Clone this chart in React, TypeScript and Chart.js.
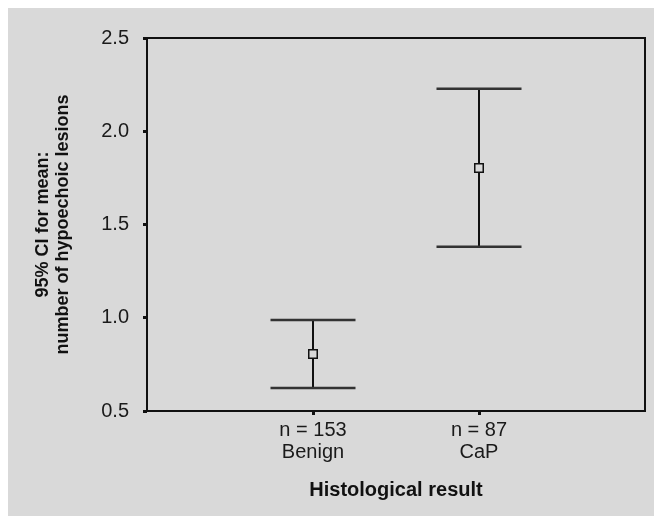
import React, { useEffect, useRef } from "react";
import { Chart, registerables } from "chart.js";

Chart.register(...registerables);

const categories = ["Benign", "CaP"];
const sampleSizes = ["n = 153", "n = 87"];
const xPositions = [1, 2];
const means = [0.806, 1.803];
const ciLower = [0.623, 1.381];
const ciUpper = [0.988, 2.228];
const yTicks = [0.5, 1.0, 1.5, 2.0, 2.5];

const BG = "#d9d9d9";
const FONT = "'Liberation Sans', Arial, Helvetica, sans-serif";

const errorBarPlugin = {
  id: "errorBars",
  beforeDatasetsDraw(chart: any) {
    const { ctx, scales } = chart;
    const xs = scales.x;
    const ys = scales.y;
    ctx.save();
    for (let i = 0; i < xPositions.length; i++) {
      const x = xs.getPixelForValue(xPositions[i]);
      const yl = ys.getPixelForValue(ciLower[i]);
      const yu = ys.getPixelForValue(ciUpper[i]);
      ctx.strokeStyle = "#111";
      ctx.lineWidth = 2;
      ctx.beginPath();
      ctx.moveTo(x, yu);
      ctx.lineTo(x, yl);
      ctx.stroke();
      ctx.strokeStyle = "#333";
      ctx.lineWidth = 2.5;
      ctx.beginPath();
      ctx.moveTo(x - 42.5, yu);
      ctx.lineTo(x + 42.5, yu);
      ctx.moveTo(x - 42.5, yl);
      ctx.lineTo(x + 42.5, yl);
      ctx.stroke();
    }
    ctx.restore();
  },
  afterDraw(chart: any) {
    const { ctx, chartArea } = chart;
    ctx.save();
    ctx.strokeStyle = "#111";
    ctx.lineWidth = 2;
    ctx.strokeRect(chartArea.left, chartArea.top, chartArea.right - chartArea.left, chartArea.bottom - chartArea.top);
    ctx.restore();
  },
};

export default function App() {
  const ref = useRef<HTMLCanvasElement>(null);
  useEffect(() => {
    document.body.style.overflow = "hidden";
    document.documentElement.style.overflow = "hidden";
    const chart = new Chart(ref.current!, {
      type: "scatter",
      data: {
        datasets: [
          {
            data: xPositions.map((x, i) => ({ x, y: means[i] })),
            pointStyle: "rect",
            radius: 6,
            borderColor: "#111",
            borderWidth: 1.5,
            backgroundColor: BG,
          },
        ],
      },
      options: {
        animation: false,
        responsive: false,
        events: [],
        layout: { padding: { top: 30, right: 17, left: 0, bottom: 0 } },
        plugins: { legend: { display: false }, tooltip: { enabled: false } },
        scales: {
          x: {
            type: "linear",
            min: 0,
            max: 3,
            afterBuildTicks: (s: any) => {
              s.ticks = xPositions.map((v) => ({ value: v }));
            },
            afterFit: (s: any) => {
              s.height = 105;
            },
            ticks: {
              autoSkip: false,
              maxRotation: 0,
              padding: 4,
              color: "#1a1a1a",
              font: { family: FONT, size: 20, lineHeight: 1.1 },
              callback: (v: any) => {
                const i = xPositions.indexOf(Number(v));
                return i >= 0 ? [sampleSizes[i], categories[i]] : "";
              },
            },
            grid: { drawOnChartArea: false, color: "#111", tickLength: 4, tickWidth: 3 },
            border: { display: false },
            title: {
              display: true,
              text: "Histological result",
              color: "#111",
              font: { family: FONT, size: 20, weight: "bold", lineHeight: 1.2 },
              padding: { top: 0, bottom: 14 },
            },
          },
          y: {
            type: "linear",
            min: 0.5,
            max: 2.5,
            afterBuildTicks: (s: any) => {
              s.ticks = yTicks.map((v) => ({ value: v }));
            },
            afterFit: (s: any) => {
              s.width = 139;
            },
            ticks: {
              padding: 14,
              color: "#1a1a1a",
              font: { family: FONT, size: 20 },
              callback: (v: any) => Number(v).toFixed(1),
            },
            grid: { drawOnChartArea: false, color: "#111", tickLength: 4, tickWidth: 3 },
            border: { display: false },
            title: {
              display: true,
              text: ["95% CI for mean:", "number of hypoechoic lesions"],
              color: "#111",
              font: { family: FONT, size: 18, weight: "bold", lineHeight: 1.1111 },
              padding: { top: 25, bottom: 0 },
            },
          },
        },
      },
      plugins: [errorBarPlugin],
    } as any);
    return () => chart.destroy();
  }, []);
  return (
    <div style={{ width: 654, height: 508, background: BG }}>
      <canvas ref={ref} width={654} height={508} style={{ display: "block", width: 654, height: 508 }} />
    </div>
  );
}
